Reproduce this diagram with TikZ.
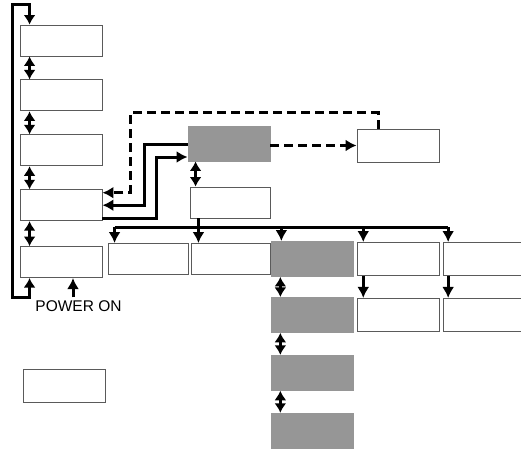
\documentclass[tikz,border=0pt]{standalone}
\usepackage{fontspec}
\setmainfont{Liberation Sans}
\usetikzlibrary{positioning, arrows.meta}
\definecolor{Frame}{HTML}{5A5A5A}
\definecolor{Shade}{HTML}{969696}

\begin{document}
\begin{tikzpicture}[x=1pt, y=-1pt,
    box/.style={draw=Frame, line width=0.9pt, fill=white, minimum width=82pt, minimum height=31pt, inner sep=0pt},
    shaded/.style={box, draw=Shade, fill=Shade, minimum height=35pt},
    arr/.style={-{Latex[length=11pt, width=12pt]}, line width=3pt, line join=miter},
    dbl/.style={{Latex[length=9.5pt, width=12pt]}-{Latex[length=9.5pt, width=12pt]}, line width=3pt},
    dasharr/.style={arr, dash pattern=on 9pt off 5pt},
    every node/.style={font=\fontsize{15.5}{18}\selectfont}
]
\useasboundingbox (0,0) rectangle (521,449);

% Left column
\node[box] (menu1) at (61,40.5) {};
\node[box, below=23pt of menu1] (menu2) {};
\node[box, below=23pt of menu2] (menu3) {};
\node[box, below=23pt of menu3] (menu4) {};
\node[box, below=25pt of menu4] (menu5) {};
\node (pwr) at (78.5,306.5) {POWER ON};
\node[box, minimum height=33pt] (spare) at (64,385.5) {};

% Upper middle
\node[shaded] (ctrl) at (229,143.5) {};
\node[box, minimum width=80pt] (sub) at (230.5,202.5) {};
\node[box, minimum height=33pt] (disp) at (398,145.5) {};

% Row of boxes
\node[box, minimum width=80pt] (row1) at (148,259) {};
\node[box, minimum width=79pt, right=3pt of row1] (row2) {};
\node[shaded, right=0pt of row2] (row3) {};
\node[box, minimum height=33pt, right=3pt of row3] (row4) {};
\node[box, minimum width=78pt, minimum height=33pt, right=3pt of row4] (row5) {};

% Lower boxes
\node[shaded, below=20pt of row3] (step1) {};
\node[shaded, below=22pt of step1] (step2) {};
\node[shaded, below=22pt of step2] (step3) {};
\node[box, minimum height=33pt, below=22pt of row4] (low4) {};
\node[box, minimum width=78pt, minimum height=33pt, below=22pt of row5] (low5) {};

\coordinate (loopc) at (12,5);
\coordinate (dashc) at (130,113);
\coordinate (bus) at (0,227);

% Arrows
\draw[dbl] ([xshift=10pt]menu5.south west) -- ++(0,19) -| (loopc) -| ([xshift=10pt]menu1.north west);
\foreach \a/\b in {menu1/menu2, menu2/menu3, menu3/menu4, menu4/menu5}
  \draw[dbl] ([xshift=10pt]\a.south west) -- ([xshift=10pt]\b.north west);
\draw[arr] ([xshift=-5.5pt]pwr.north) -- ([xshift=-5.5pt]pwr.north |- menu5.south);

\draw[dasharr] ([xshift=-20pt]disp.north) |- (dashc) |- ([yshift=12.5pt]menu4.east);
\draw[dasharr] (ctrl.east |- disp.west) -- (disp.west);
\draw[arr] ([yshift=-1.5pt]ctrl.west) -- ++(-43,0) |- (menu4.east);
\draw[arr] ([yshift=-13pt]menu4.east) -- ++(54,0) |- ([yshift=-13.5pt]ctrl.west);
\draw[dbl] ([xshift=8pt]ctrl.south west) -- ([xshift=8pt]ctrl.south west |- sub.north);

\draw[line width=3pt] ([xshift=7pt]row1.north west |- bus) -- ([xshift=5pt]row5.north west |- bus);
\draw[arr] ([xshift=7pt]row2.north west |- sub.south) -- ([xshift=7pt]row2.north west);
\foreach \n/\dx in {row1/7, row3/10, row4/6, row5/5}
  \draw[arr] ([xshift=\dx pt]\n.north west |- bus) -- ([xshift=\dx pt]\n.north west);

\foreach \a/\b in {row3/step1, step1/step2, step2/step3}
  \draw[dbl] ([xshift=9pt]\a.south west) -- ([xshift=9pt]\b.north west);
\draw[arr] ([xshift=6pt]row4.south west) -- ([xshift=6pt]low4.north west);
\draw[arr] ([xshift=5pt]row5.south west) -- ([xshift=5pt]low5.north west);

\end{tikzpicture}
\end{document}
